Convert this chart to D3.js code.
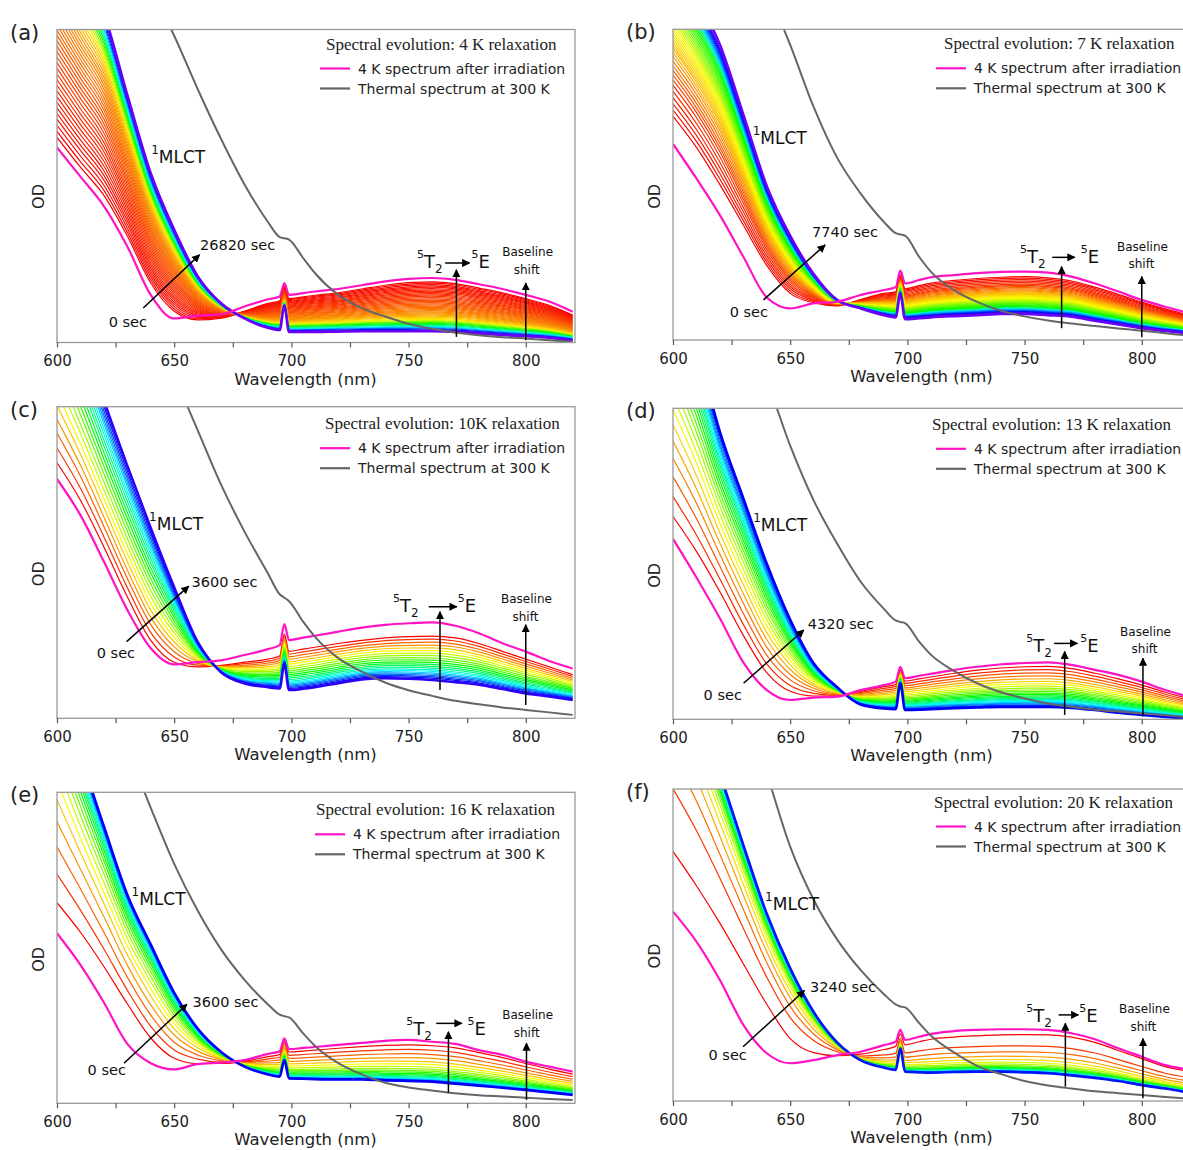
<!DOCTYPE html>
<html>
<head>
<meta charset="utf-8">
<script src="https://cdn.jsdelivr.net/npm/d3@7"></script>
<style>
  body { margin: 0; background: #fff; }
  svg { display: block; }
</style>
</head>
<body>
<svg id="fig" width="1183" height="1150"></svg>
<script>
// wavelength grid (nm) shared by every spectrum
const wavelengths = [600, 610, 620, 630, 640, 650, 660, 670, 680, 690, 695, 697, 699, 705, 710, 720, 730, 740, 750, 760, 770, 780, 790, 800, 810, 820];

// OD (0 = frame bottom, 1 = frame top)
// (a) 4 K
const magA   = [.623, .53, .436, .307, .152, .077, .086, .09, .115, .138, .147, .19, .152, .158, .163, .171, .183, .195, .203, .206, .2, .186, .171, .152, .131, .098];
const firstA = [.655, .56, .47, .34, .19, .1, .072, .078, .1, .125, .133, .18, .14, .146, .151, .159, .171, .183, .191, .194, .188, .174, .159, .14, .119, .088];
const lastA  = [1.35, 1.2, 1.05, .79, .54, .36, .212, .125, .077, .047, .04, .118, .034, .034, .034, .035, .036, .036, .036, .036, .034, .029, .024, .02, .015, .007];
const thermA = [2.0, 1.75, 1.5, 1.3, 1.13, .98, .81, .65, .505, .385, .337, .333, .329, .27, .222, .152, .11, .083, .06, .044, .032, .023, .017, .013, .007, .002];
const fracA  = [0, .028, .056, .084, .11, .136, .162, .188, .214, .24, .266, .292, .318, .344, .37, .395, .42, .445, .47, .493, .516, .539, .562, .585, .607, .629, .651, .673, .695, .717, .74, .76, .78, .8, .82, .84, .86, .88, .9, .92, .94, .96, .98, 1];

// (b) 7 K
const magB   = [.631, .52, .402, .268, .137, .102, .118, .123, .145, .161, .17, .223, .182, .193, .202, .209, .215, .219, .22, .217, .204, .182, .156, .129, .107, .086];
const firstB = [.72, .62, .5, .37, .24, .15, .12, .11, .13, .15, .155, .21, .165, .175, .183, .192, .198, .202, .204, .2, .19, .17, .147, .122, .1, .08];
const lastB  = [1.22, 1.1, .95, .725, .495, .335, .212, .129, .102, .08, .073, .15, .067, .07, .073, .077, .08, .084, .084, .08, .075, .062, .05, .038, .029, .021];
const thermB = [2.0, 1.75, 1.5, 1.3, 1.13, .95, .75, .587, .472, .38, .344, .34, .336, .268, .22, .16, .122, .094, .076, .063, .053, .045, .037, .03, .022, .014];
const fracB  = [0, .04, .08, .12, .16, .2, .235, .265, .295, .325, .355, .385, .41, .435, .455, .475, .495, .515, .535, .555, .575, .595, .615, .635, .655, .675, .695, .715, .735, .755, .775, .795, .815, .835, .85, .865, .88, .895, .91, .925, .94, .955, .97, 1];

// (c) 10 K
const magC   = [.768, .652, .503, .348, .225, .173, .18, .186, .203, .222, .235, .302, .251, .259, .265, .278, .291, .3, .305, .308, .297, .273, .241, .214, .184, .16];
const firstC = [.82, .7, .55, .39, .25, .18, .165, .17, .18, .19, .2, .27, .215, .222, .228, .24, .25, .258, .262, .264, .258, .24, .215, .19, .165, .14];
const lastC  = [1.5, 1.25, 1.02, .81, .61, .42, .245, .148, .112, .1, .096, .176, .091, .095, .1, .113, .125, .129, .127, .123, .116, .108, .094, .08, .07, .059];
const thermC = [2.2, 1.95, 1.7, 1.48, 1.28, 1.1, .925, .75, .599, .465, .398, .387, .376, .31, .262, .193, .15, .115, .09, .072, .056, .045, .035, .027, .019, .011];
const fracC  = [0, .07, .14, .205, .27, .33, .39, .445, .5, .55, .6, .645, .69, .73, .77, .805, .84, .87, .9, .93, .96, 1];

// (d) 13 K
const magD   = [.58, .456, .325, .183, .094, .062, .07, .073, .094, .11, .121, .169, .132, .14, .146, .159, .169, .177, .181, .183, .175, .159, .143, .121, .094, .073];
const firstD = [.652, .54, .41, .27, .15, .09, .075, .075, .09, .105, .112, .16, .123, .13, .136, .148, .158, .165, .169, .17, .163, .148, .13, .11, .087, .066];
const lastD  = [1.45, 1.2, .924, .71, .5, .32, .18, .103, .048, .035, .033, .116, .03, .031, .033, .036, .038, .04, .04, .04, .037, .03, .021, .014, .008, .002];
const thermD = [1.95, 1.7, 1.45, 1.26, 1.09, .88, .704, .565, .443, .355, .318, .313, .309, .25, .208, .155, .115, .087, .067, .051, .04, .031, .025, .019, .013, .007];
const fracD  = [0, .08, .16, .235, .305, .37, .43, .485, .535, .58, .62, .66, .695, .73, .76, .79, .815, .84, .865, .89, .91, .93, .955, .975, 1];

// (e) 16 K
const magE   = [.547, .445, .324, .191, .129, .109, .126, .131, .139, .159, .167, .209, .174, .178, .181, .188, .194, .201, .204, .198, .191, .171, .156, .134, .118, .102];
const firstE = [.645, .55, .44, .32, .21, .145, .128, .128, .135, .15, .157, .2, .165, .168, .171, .177, .182, .186, .188, .185, .178, .163, .147, .128, .11, .094];
const lastE  = [1.38, 1.12, .89, .67, .51, .355, .24, .165, .118, .093, .086, .139, .08, .079, .078, .077, .077, .074, .072, .07, .063, .057, .05, .043, .035, .027];
const thermE = [1.8, 1.55, 1.33, 1.14, .95, .77, .62, .495, .397, .318, .285, .28, .276, .225, .185, .129, .093, .066, .051, .041, .032, .026, .022, .018, .014, .011];
const fracE  = [0, .125, .245, .355, .45, .53, .6, .66, .71, .755, .795, .83, .86, .885, .91, .93, .95, .965, .98, .99, 1];

// (f) 20 K
const magF   = [.607, .511, .388, .244, .153, .121, .131, .147, .158, .179, .19, .228, .196, .206, .215, .224, .228, .23, .23, .228, .217, .198, .169, .142, .115, .101];
const firstF = [.8, .69, .57, .44, .31, .2, .155, .145, .15, .165, .175, .215, .18, .19, .198, .205, .209, .212, .213, .212, .205, .188, .162, .136, .11, .095];
const lastF  = [1.47, 1.28, 1.05, .82, .6, .425, .285, .188, .131, .107, .1, .168, .094, .092, .091, .093, .094, .094, .092, .089, .082, .074, .064, .051, .04, .027];
const thermF = [1.95, 1.7, 1.48, 1.28, 1.05, .815, .645, .518, .42, .342, .31, .303, .3, .25, .21, .155, .112, .086, .064, .05, .04, .031, .025, .019, .013, .007];
const fracF  = [0, .3, .46, .58, .67, .74, .79, .83, .86, .885, .905, .925, .94, .955, .965, .975, .985, .993, 1];

const xTicks = [600, 625, 650, 675, 700, 725, 750, 775, 800];

const panels = [
  { id: "a", left: 57, top: 29.5, bottom: 342.5, title: "Spectral evolution: 4 K relaxation", time: "26820 sec",
    mag: magA, first: firstA, last: lastA, thermal: thermA, fracs: fracA,
    hueAt: [0, .3, .6, .72, .82, .9, .96, 1], hues: [0, 15, 35, 55, 120, 185, 240, 265],
    legend: { tx: 269, lx: 263, dy: 0 },
    mlct: [640.2, .575], arrow: [636.8, .11, 660.8, .28], zero: [638.4, .05], timeAt: [661, .297],
    t5: [753.6, .238], h: [765.6, 776, .254], e5: [776.8, .238], v: [770.4, .018, .232],
    base: [800.8, .275, .218], bv: [800, .007, .19] },
  { id: "b", left: 673, top: 29.3, bottom: 340, title: "Spectral evolution: 7 K relaxation", time: "7740 sec",
    mag: magB, first: firstB, last: lastB, thermal: thermB, fracs: fracB,
    hueAt: [0, .14, .29, .48, .75, .81, .95, 1], hues: [0, 15, 42, 62, 125, 185, 240, 265],
    legend: { tx: 271, lx: 263, dy: 0 },
    mlct: [634, .631], arrow: [638.6, .129, 664.9, .306], zero: [640.5, .075], timeAt: [659.3, .33],
    t5: [748, .247], h: [761.8, 771.4, .266], e5: [774, .247], v: [765.8, .038, .236],
    base: [800.3, .288, .231], bv: [800, .009, .204] },
  { id: "c", left: 57, top: 406.7, bottom: 718.3, title: "Spectral evolution: 10K relaxation", time: "3600 sec",
    mag: magC, first: firstC, last: lastC, thermal: thermC, fracs: fracC,
    hueAt: [0, 1], hues: [0, 250],
    legend: { tx: 268, lx: 263, dy: 2.5 },
    mlct: [639.3, .604], arrow: [629.7, .246, 656.2, .424], zero: [633.3, .194], timeAt: [657.4, .422],
    t5: [743.3, .342], h: [758.6, 770.6, .358], e5: [771, .342], v: [763.4, .091, .342],
    base: [800.3, .369, .312], bv: [800, .043, .3] },
  { id: "d", left: 673, top: 408.3, bottom: 719.3, title: "Spectral evolution: 13 K relaxation", time: "4320 sec",
    mag: magD, first: firstD, last: lastD, thermal: thermD, fracs: fracD,
    hueAt: [0, 1], hues: [0, 240],
    legend: { tx: 259, lx: 263, dy: 1.5 },
    mlct: [634.2, .606], arrow: [630.1, .116, 655.8, .287], zero: [629.4, .062], timeAt: [657.5, .29],
    t5: [750.7, .218], h: [762.6, 772.5, .244], e5: [773.8, .218], v: [767.1, .014, .218],
    base: [801.6, .269, .212], bv: [800.5, .009, .196] },
  { id: "e", left: 57, top: 792.3, bottom: 1103.3, title: "Spectral evolution: 16 K relaxation", time: "3600 sec",
    mag: magE, first: firstE, last: lastE, thermal: thermE, fracs: fracE,
    hueAt: [0, 1], hues: [0, 240],
    legend: { tx: 259, lx: 258, dy: 3 },
    mlct: [631.8, .638], arrow: [628.6, .129, 655.4, .318], zero: [629.4, .091], timeAt: [657.8, .309],
    t5: [749, .22], h: [761.8, 772.7, .257], e5: [775.1, .22], v: [767, .034, .23],
    base: [800.8, .27, .214], bv: [800.3, .011, .193] },
  { id: "f", left: 673, top: 789, bottom: 1101, title: "Spectral evolution: 20 K relaxation", time: "3240 sec",
    mag: magF, first: firstF, last: lastF, thermal: thermF, fracs: fracF,
    hueAt: [0, 1], hues: [0, 235],
    legend: { tx: 261, lx: 263, dy: -1.5 },
    mlct: [639.3, .612], arrow: [629.9, .174, 656.1, .354], zero: [631.5, .131], timeAt: [658.5, .35],
    t5: [750.7, .254], h: [764.5, 773, .276], e5: [773.3, .254], v: [767.4, .046, .249],
    base: [801.1, .281, .225], bv: [800.5, .009, .2] }
];

const SANS = "DejaVu Sans";
const PLOT_W = 518;

const svg = d3.select("#fig");
const defs = svg.append("defs");
defs.append("marker")
    .attr("id", "head")
    .attr("viewBox", "0 0 10 10")
    .attr("refX", 9).attr("refY", 5)
    .attr("markerWidth", 5.5).attr("markerHeight", 5.5)
    .attr("orient", "auto")
  .append("path")
    .attr("d", "M0,0L10,5L0,10z")
    .attr("fill", "#000");

panels.forEach(p => {
    var x = d3.scaleLinear().domain([600, 821]).range([p.left, p.left + PLOT_W]);
    var y = d3.scaleLinear().domain([0, 1]).range([p.bottom, p.top]);
    var g = svg.append("g").attr("class", "panel-" + p.id);

    defs.append("clipPath").attr("id", "clip-" + p.id)
      .append("rect")
        .attr("x", p.left).attr("y", p.top)
        .attr("width", PLOT_W).attr("height", p.bottom - p.top);

    var line = d3.line()
        .x((d, i) => x(wavelengths[i]))
        .y(d => y(d))
        .curve(d3.curveMonotoneX);

    // time series of spectra: each run sits between the first and the last measured spectrum
    var hue = d3.scaleLinear().domain(p.hueAt).range(p.hues);
    var n = p.fracs.length;
    var runs = p.fracs.map((f, i) => ({
        i: i,
        values: p.first.map((v, k) => v + f * (p.last[k] - v)),
        color: d3.hsl(hue(i / (n - 1)), 1, 0.49).toString()
    }));

    var plot = g.append("g").attr("clip-path", "url(#clip-" + p.id + ")");

    plot.selectAll("path.run")
        .data(runs)
        .join("path")
        .attr("class", "run")
        .attr("d", d => line(d.values))
        .attr("fill", "none")
        .attr("stroke", d => d.color)
        .attr("stroke-width", d => d.i === n - 1 ? 2.7 : 1.2);

    plot.append("path")
        .attr("d", line(p.mag))
        .attr("fill", "none")
        .attr("stroke", "#ff14c4")
        .attr("stroke-width", 2.2);

    plot.append("path")
        .attr("d", line(p.thermal))
        .attr("fill", "none")
        .attr("stroke", "#666")
        .attr("stroke-width", 2);

    // frame
    g.append("rect")
        .attr("x", p.left).attr("y", p.top)
        .attr("width", PLOT_W).attr("height", p.bottom - p.top)
        .attr("fill", "none")
        .attr("stroke", "#999")
        .attr("stroke-width", 1.3);

    // x axis
    g.append("g")
        .attr("transform", "translate(0," + p.bottom + ")")
        .call(d3.axisBottom(x).tickValues(xTicks).tickSize(5).tickPadding(8)
            .tickFormat(d => d % 50 === 0 ? d : ""))
        .attr("font-family", SANS)
        .attr("font-size", 15)
        .call(a => a.select(".domain").remove())
        .call(a => a.selectAll("line").attr("stroke", "#555").attr("stroke-width", 1.2))
        .call(a => a.selectAll("text").attr("fill", "#222"));

    g.append("text")
        .attr("x", x(706)).attr("y", p.bottom + 42)
        .attr("text-anchor", "middle")
        .attr("font-family", SANS).attr("font-size", 16.5).attr("fill", "#222")
        .text("Wavelength (nm)");

    g.append("text")
        .attr("transform", "translate(" + (p.left - 13) + "," + (p.top + 167) + ") rotate(-90)")
        .attr("text-anchor", "middle")
        .attr("font-family", SANS).attr("font-size", 16).attr("fill", "#222")
        .text("OD");

    g.append("text")
        .attr("x", p.left - 47).attr("y", p.top + 10)
        .attr("font-family", SANS).attr("font-size", 21).attr("fill", "#222")
        .text("(" + p.id + ")");

    // legend
    var lg = p.legend;
    g.append("text")
        .attr("x", p.left + lg.tx).attr("y", p.top + lg.dy + 20)
        .attr("font-family", "Liberation Serif").attr("font-size", 17).attr("fill", "#222")
        .text(p.title);
    [["4 K spectrum after irradiation", "#ff14c4", 39], ["Thermal spectrum at 300 K", "#666", 59]].forEach(r => {
        var ly = p.top + lg.dy + r[2];
        g.append("line")
            .attr("x1", p.left + lg.lx).attr("x2", p.left + lg.lx + 30)
            .attr("y1", ly).attr("y2", ly)
            .attr("stroke", r[1]).attr("stroke-width", 2.2);
        g.append("text")
            .attr("x", p.left + lg.lx + 38).attr("y", ly + 5)
            .attr("font-family", SANS).attr("font-size", 14).attr("fill", "#222")
            .text(r[0]);
    });

    // 1MLCT
    var ml = g.append("text")
        .attr("x", x(p.mlct[0])).attr("y", y(p.mlct[1]))
        .attr("font-family", SANS).attr("fill", "#111");
    ml.append("tspan").attr("font-size", 12).attr("dy", -9).text("1");
    ml.append("tspan").attr("font-size", 17).attr("dy", 9).text("MLCT");

    // time arrow
    g.append("line")
        .attr("x1", x(p.arrow[0])).attr("y1", y(p.arrow[1]))
        .attr("x2", x(p.arrow[2])).attr("y2", y(p.arrow[3]))
        .attr("stroke", "#000").attr("stroke-width", 1.5)
        .attr("marker-end", "url(#head)");
    g.append("text")
        .attr("x", x(p.zero[0])).attr("y", y(p.zero[1]))
        .attr("text-anchor", "end")
        .attr("font-family", SANS).attr("font-size", 14.5).attr("fill", "#111")
        .text("0 sec");
    g.append("text")
        .attr("x", x(p.timeAt[0])).attr("y", y(p.timeAt[1]))
        .attr("font-family", SANS).attr("font-size", 14.5).attr("fill", "#111")
        .text(p.time);

    // 5T2 -> 5E
    var tt = g.append("text")
        .attr("x", x(p.t5[0])).attr("y", y(p.t5[1]))
        .attr("font-family", SANS).attr("fill", "#111");
    tt.append("tspan").attr("font-size", 11).attr("dy", -10).text("5");
    tt.append("tspan").attr("font-size", 18).attr("dy", 10).text("T");
    tt.append("tspan").attr("font-size", 12).attr("dy", 5).text("2");
    g.append("line")
        .attr("x1", x(p.h[0])).attr("x2", x(p.h[1]))
        .attr("y1", y(p.h[2])).attr("y2", y(p.h[2]))
        .attr("stroke", "#000").attr("stroke-width", 1.5)
        .attr("marker-end", "url(#head)");
    var te = g.append("text")
        .attr("x", x(p.e5[0])).attr("y", y(p.e5[1]))
        .attr("font-family", SANS).attr("fill", "#111");
    te.append("tspan").attr("font-size", 11).attr("dy", -10).text("5");
    te.append("tspan").attr("font-size", 18).attr("dy", 10).text("E");
    g.append("line")
        .attr("x1", x(p.v[0])).attr("x2", x(p.v[0]))
        .attr("y1", y(p.v[1])).attr("y2", y(p.v[2]))
        .attr("stroke", "#000").attr("stroke-width", 1.5)
        .attr("marker-end", "url(#head)");

    // baseline shift
    g.append("text")
        .attr("x", x(p.base[0])).attr("y", y(p.base[1]))
        .attr("text-anchor", "middle")
        .attr("font-family", SANS).attr("font-size", 12).attr("fill", "#111")
        .text("Baseline");
    g.append("text")
        .attr("x", x(p.base[0]) - 1).attr("y", y(p.base[2]))
        .attr("text-anchor", "middle")
        .attr("font-family", SANS).attr("font-size", 12).attr("fill", "#111")
        .text("shift");
    g.append("line")
        .attr("x1", x(p.bv[0])).attr("x2", x(p.bv[0]))
        .attr("y1", y(p.bv[1])).attr("y2", y(p.bv[2]))
        .attr("stroke", "#000").attr("stroke-width", 1.5)
        .attr("marker-end", "url(#head)");
});
</script>
</body>
</html>
